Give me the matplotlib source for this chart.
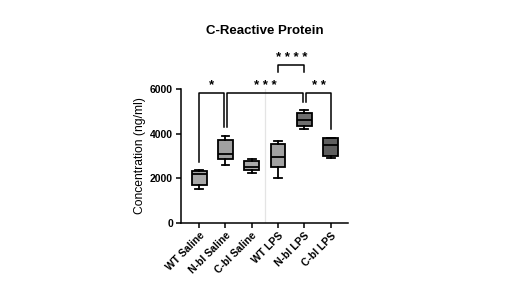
import matplotlib
matplotlib.use("Agg")
import matplotlib.pyplot as plt

plt.rcParams['font.family'] = ['Liberation Sans', 'DejaVu Sans']

# Box statistics (ng/ml)
groups = ["WT Saline", "N-bl Saline", "C-bl Saline", "WT LPS", "N-bl LPS", "C-bl LPS"]
whislo = [1520, 2590, 2240, 1990, 4190, 2910]
q1 = [1700, 2840, 2370, 2480, 4350, 2980]
med = [2180, 3070, 2520, 2960, 4610, 3470]
q3 = [2300, 3710, 2750, 3510, 4940, 3800]
whishi = [2370, 3880, 2840, 3650, 5060, 3800]
box_colors = ["#a9a9a9", "#a0a0a0", "#a9a9a9", "#a2a2a2", "#707070", "#5f5f5f"]

# Significance brackets: (x_left, x_right, top, left_leg_bottom, right_leg_bottom, label, label_y)
brackets = [
    (0.0, 0.93, 5800, 2740, 4300, "*", 6150),
    (1.07, 3.93, 5800, 4300, 5420, "* * *", 6150),
    (4.07, 5.0, 5800, 5420, 4190, "* *", 6150),
    (3.0, 4.0, 7080, 6750, 6750, "* * * *", 7410),
]

fig = plt.figure(figsize=(5.2, 2.92), dpi=100)
ax = fig.add_axes([0.3475, 0.2373, 0.3215, 0.4579])

stats = []
for i, g in enumerate(groups):
    stats.append(dict(label=g, whislo=whislo[i], q1=q1[i], med=med[i],
                      q3=q3[i], whishi=whishi[i], fliers=[]))

bp = ax.bxp(stats, positions=range(len(groups)), widths=0.56, patch_artist=True,
            showfliers=False,
            boxprops=dict(linewidth=1.3, edgecolor="black"),
            medianprops=dict(color="black", linewidth=1.3),
            whiskerprops=dict(color="black", linewidth=1.3),
            capprops=dict(color="black", linewidth=1.3), capwidths=0.3)
for patch, c in zip(bp["boxes"], box_colors):
    patch.set_facecolor(c)

# light separator between saline and LPS groups
ax.axvline(2.5, ymin=0, ymax=1, color="#e4e4e4", linewidth=0.9, zorder=0)

for xl, xr, top, yl, yr, lab, ly in brackets:
    ax.plot([xl, xl, xr, xr], [yl, top, top, yr], color="black", linewidth=1.1,
            clip_on=False)
    ax.text((xl + xr) / 2, ly, lab, ha="center", va="center",
            fontsize=9.5, fontweight="bold", clip_on=False)

ax.set_xlim(-0.7, 5.65)
ax.set_ylim(0, 6000)
ax.set_yticks([0, 2000, 4000, 6000])
ax.set_xticks(range(len(groups)))
ax.set_xticklabels(groups, rotation=45, ha="right", rotation_mode="anchor",
                   fontsize=7.5, fontweight="bold")
for t in ax.get_yticklabels():
    t.set_fontweight("bold")
    t.set_fontsize(7.5)
ax.tick_params(axis="both", direction="out", length=3.5, width=1.1, pad=2)
ax.spines["top"].set_visible(False)
ax.spines["right"].set_visible(False)
ax.spines["left"].set_linewidth(1.1)
ax.spines["bottom"].set_linewidth(1.1)
ax.set_ylabel("Concentration (ng/ml)", fontsize=8.7, labelpad=3)

fig.text(0.51, 0.894, "C-Reactive Protein", ha="center", va="center",
         fontsize=9.5, fontweight="bold")

fig.savefig("out.png", dpi=100)
